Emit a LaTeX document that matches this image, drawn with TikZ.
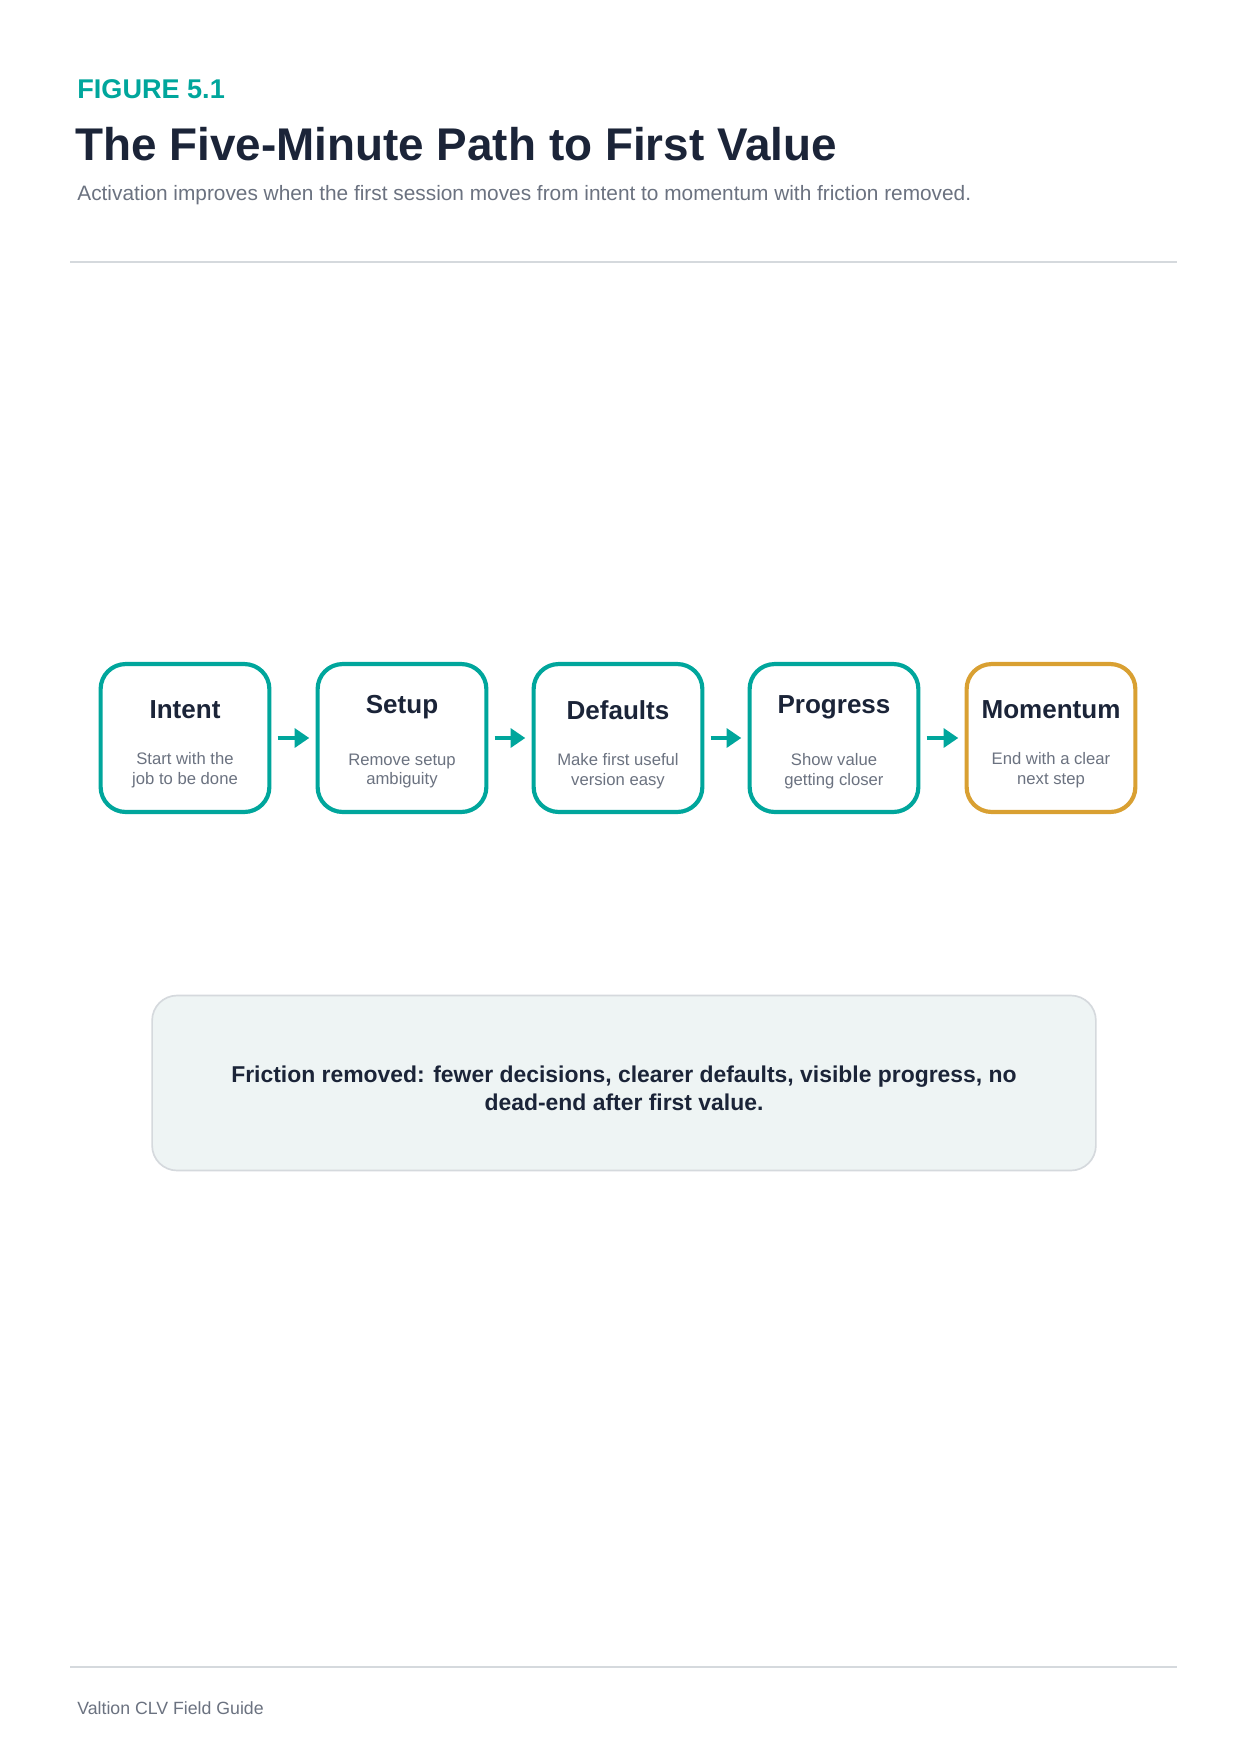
\documentclass[tikz,border=0pt]{standalone}
\usepackage{fontspec}
\setmainfont{Liberation Sans}
\usetikzlibrary{arrows.meta}
\definecolor{tealc}{HTML}{00A69C}
\definecolor{amberc}{HTML}{D9A032}
\definecolor{inkc}{HTML}{1B2438}
\definecolor{greyc}{HTML}{6B7280}
\definecolor{rulec}{HTML}{D5D9DD}
\definecolor{notefill}{HTML}{EEF4F4}
\tikzset{
  stage/.style={draw=tealc, line width=2pt, rounded corners=12pt, minimum width=81pt, minimum height=71pt},
  stagetitle/.style={font=\bfseries\fontsize{12.5}{15}\selectfont, text=inkc},
  stagetext/.style={font=\fontsize{8}{9.5}\selectfont, text=greyc, align=center},
  flow/.style={-{Triangle[length=7pt,width=9pt]}, tealc, line width=2.2pt}
}
\begin{document}
\begin{tikzpicture}[x=0.48pt,y=-0.48pt]
  \useasboundingbox[fill=white] (0,0) rectangle (1240,1754);
  % header
  \node[anchor=base west, text=tealc, font=\bfseries\fontsize{13}{15}\selectfont] (fig) at (70,98) {FIGURE 5.1};
  \node[anchor=base west, text=inkc, font=\bfseries\fontsize{22}{26}\selectfont] (title) at (68,160) {The Five-Minute Path to First Value};
  \node[anchor=base west, text=greyc, font=\fontsize{10}{12}\selectfont] (sub) at (70,200) {Activation improves when the first session moves from intent to momentum with friction removed.};
  \draw[rulec, line width=0.7pt] (70,262) -- (1177,262);
  % stages
  \node[stage] (s1) at (185,738) {};
  \node[stage] (s2) at (402,738) {};
  \node[stage] (s3) at (618,738) {};
  \node[stage] (s4) at (834,738) {};
  \node[stage, draw=amberc] (s5) at (1051,738) {};
  \node[stagetitle] (t1) at (185,710) {Intent};
  \node[stagetitle] (t2) at (402,707) {Setup};
  \node[stagetitle] (t3) at (618,710) {Defaults};
  \node[stagetitle] (t4) at (834,707) {Progress};
  \node[stagetitle] (t5) at (1051,710) {Momentum};
  \node[stagetext] (d1) at (185,770) {Start with the\\job to be done};
  \node[stagetext] (d2) at (402,771) {Remove setup\\ambiguity};
  \node[stagetext] (d3) at (618,771) {Make first useful\\version easy};
  \node[stagetext] (d4) at (834,771) {Show value\\getting closer};
  \node[stagetext] (d5) at (1051,770) {End with a clear\\next step};
  \foreach \a/\b in {s1/s2,s2/s3,s3/s4,s4/s5}
    \draw[flow] ([xshift=3pt]\a.east) -- ([xshift=-3pt]\b.east -| \b.west);
  % note
  \node[draw=rulec, fill=notefill, line width=0.8pt, rounded corners=12pt, minimum width=453pt, minimum height=84pt] (note) at (624,1083) {};
  \node[text=inkc, font=\bfseries\fontsize{11}{13.5}\selectfont, align=center] (notetext) at (624,1088) {Friction removed: fewer decisions, clearer defaults, visible progress, no\\dead-end after first value.};
  % footer
  \draw[rulec, line width=0.7pt] (70,1667) -- (1177,1667);
  \node[anchor=base west, text=greyc, font=\fontsize{8.5}{10}\selectfont] (foot) at (70,1714) {Valtion CLV Field Guide};
\end{tikzpicture}
\end{document}
